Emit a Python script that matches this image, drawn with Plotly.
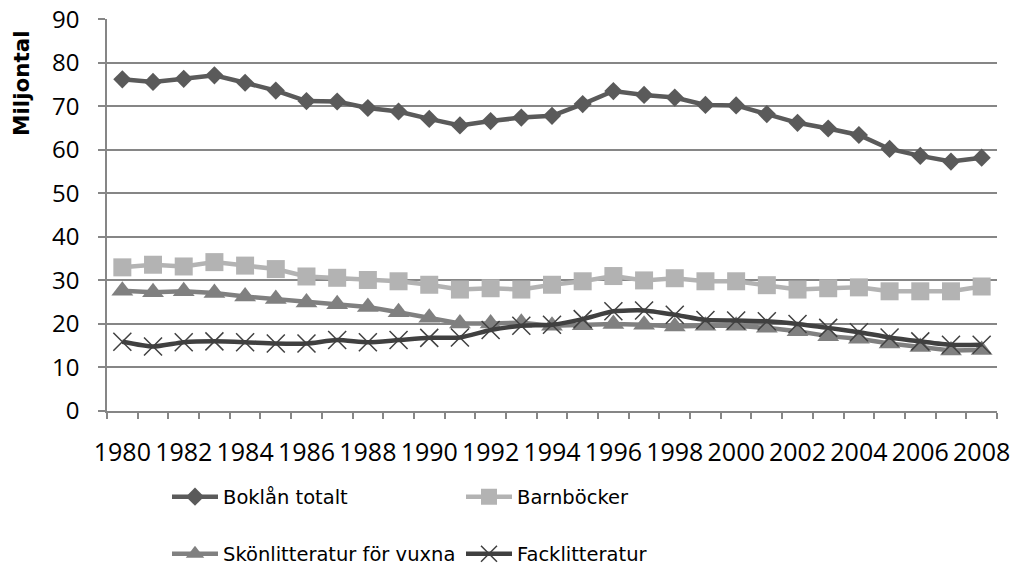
import plotly.graph_objects as go

years = list(range(1980, 2009))
boklan_totalt = [76.2, 75.6, 76.3, 77.1, 75.4, 73.6, 71.2, 71.1, 69.6, 68.8, 67.1, 65.6, 66.6, 67.4,
                 67.8, 70.5, 73.5, 72.6, 72.0, 70.3, 70.2, 68.2, 66.2, 64.9, 63.4, 60.2, 58.6, 57.3, 58.2]
barnbocker = [33.0, 33.6, 33.2, 34.2, 33.4, 32.6, 30.9, 30.6, 30.1, 29.8, 29.0, 27.9, 28.2, 27.9,
              29.0, 29.8, 31.0, 30.0, 30.5, 29.8, 29.8, 28.9, 27.9, 28.2, 28.4, 27.5, 27.5, 27.5, 28.6]
skonlitteratur = [27.6, 27.3, 27.5, 27.1, 26.3, 25.7, 24.9, 24.5, 23.9, 22.7, 21.4, 20.1, 20.1, 20.3,
                  19.6, 19.7, 20.0, 19.8, 19.4, 19.6, 19.6, 19.1, 18.3, 17.2, 16.6, 15.5, 14.7, 13.9, 14.0]
facklitteratur = [15.9, 14.8, 15.8, 16.0, 15.8, 15.5, 15.5, 16.3, 15.8, 16.3, 16.8, 16.9, 18.6, 19.6,
                  19.8, 21.1, 22.9, 23.1, 22.1, 20.9, 20.8, 20.6, 20.0, 19.1, 18.1, 16.9, 16.0, 15.2, 15.2]
tick_years = list(range(1980, 2009, 2))
y_ticks = list(range(0, 91, 10))

grid = "#868686"
fig = go.Figure()
fig.add_trace(go.Scatter(x=years, y=boklan_totalt, name="Boklån totalt", mode="lines+markers",
                         line=dict(color="#5a5a5a", width=4.5),
                         marker=dict(symbol="diamond", size=14, color="#5a5a5a"), legend="legend"))
fig.add_trace(go.Scatter(x=years, y=barnbocker, name="Barnböcker", mode="lines+markers",
                         line=dict(color="#b3b3b3", width=4.5),
                         marker=dict(symbol="square", size=18, color="#b3b3b3"), legend="legend"))
fig.add_trace(go.Scatter(x=years, y=skonlitteratur, name="Skönlitteratur för vuxna", mode="lines+markers",
                         line=dict(color="#808080", width=4.5),
                         marker=dict(symbol="triangle-up", size=19, color="#808080"), legend="legend2"))
fig.add_trace(go.Scatter(x=years, y=facklitteratur, name="Facklitteratur", mode="lines+markers",
                         line=dict(color="#404040", width=4.5, shape="spline", smoothing=0.6),
                         marker=dict(symbol="x-thin", size=18, color="#404040",
                                     line=dict(color="#404040", width=1.5)), legend="legend2"))

leg_common = dict(orientation="h", xref="container", yref="container", xanchor="left",
                  yanchor="middle", entrywidth=233, entrywidthmode="pixels",
                  font=dict(family="DejaVu Sans", size=19.5), itemwidth=46,
                  bgcolor="rgba(0,0,0,0)")
fig.update_layout(
    width=1022, height=580,
    margin=dict(l=99, r=33, t=11, b=177, autoexpand=False),
    paper_bgcolor="white", plot_bgcolor="white",
    font=dict(family="Open Sans", size=25, color="black"),
    xaxis=dict(range=[1979.5, 2008.5], tickmode="array", tickvals=tick_years,
               ticktext=[str(y) for y in tick_years], ticks="", showgrid=False, automargin=False,
               showline=True, linecolor=grid, linewidth=1.5, zeroline=False,
               ticklabelstandoff=18, ticklabeloverflow="allow",
               minor=dict(tickmode="array", tickvals=[y - 0.5 for y in years] + [2008.5],
                          ticks="outside", ticklen=6, tickcolor=grid, tickwidth=1.5, showgrid=False),
               tickfont=dict(family="Open Sans", size=25)),
    yaxis=dict(range=[0, 90.05], tickmode="array", tickvals=y_ticks, ticks="outside", ticklen=7,
               tickcolor=grid, tickwidth=1.5, showgrid=True, gridcolor=grid, gridwidth=1.5,
               showline=True, linecolor=grid, linewidth=1.5, zeroline=False, automargin=False,
               ticklabelstandoff=14, ticklabeloverflow="allow",
               tickfont=dict(family="Open Sans", size=24)),
    legend=dict(x=159 / 1022, y=1 - 489 / 580, **leg_common),
    legend2=dict(x=159 / 1022, y=1 - 546 / 580, **leg_common),
    annotations=[dict(text="<b>Miljontal</b>", xref="paper", yref="paper",
                      x=-(107 - 22) / 890, y=(411 - 83) / 392, xanchor="center", yanchor="middle",
                      textangle=-90, showarrow=False,
                      font=dict(family="DejaVu Sans", size=21.5, color="black"))],
    showlegend=True,
)
fig.write_html("out.html")
